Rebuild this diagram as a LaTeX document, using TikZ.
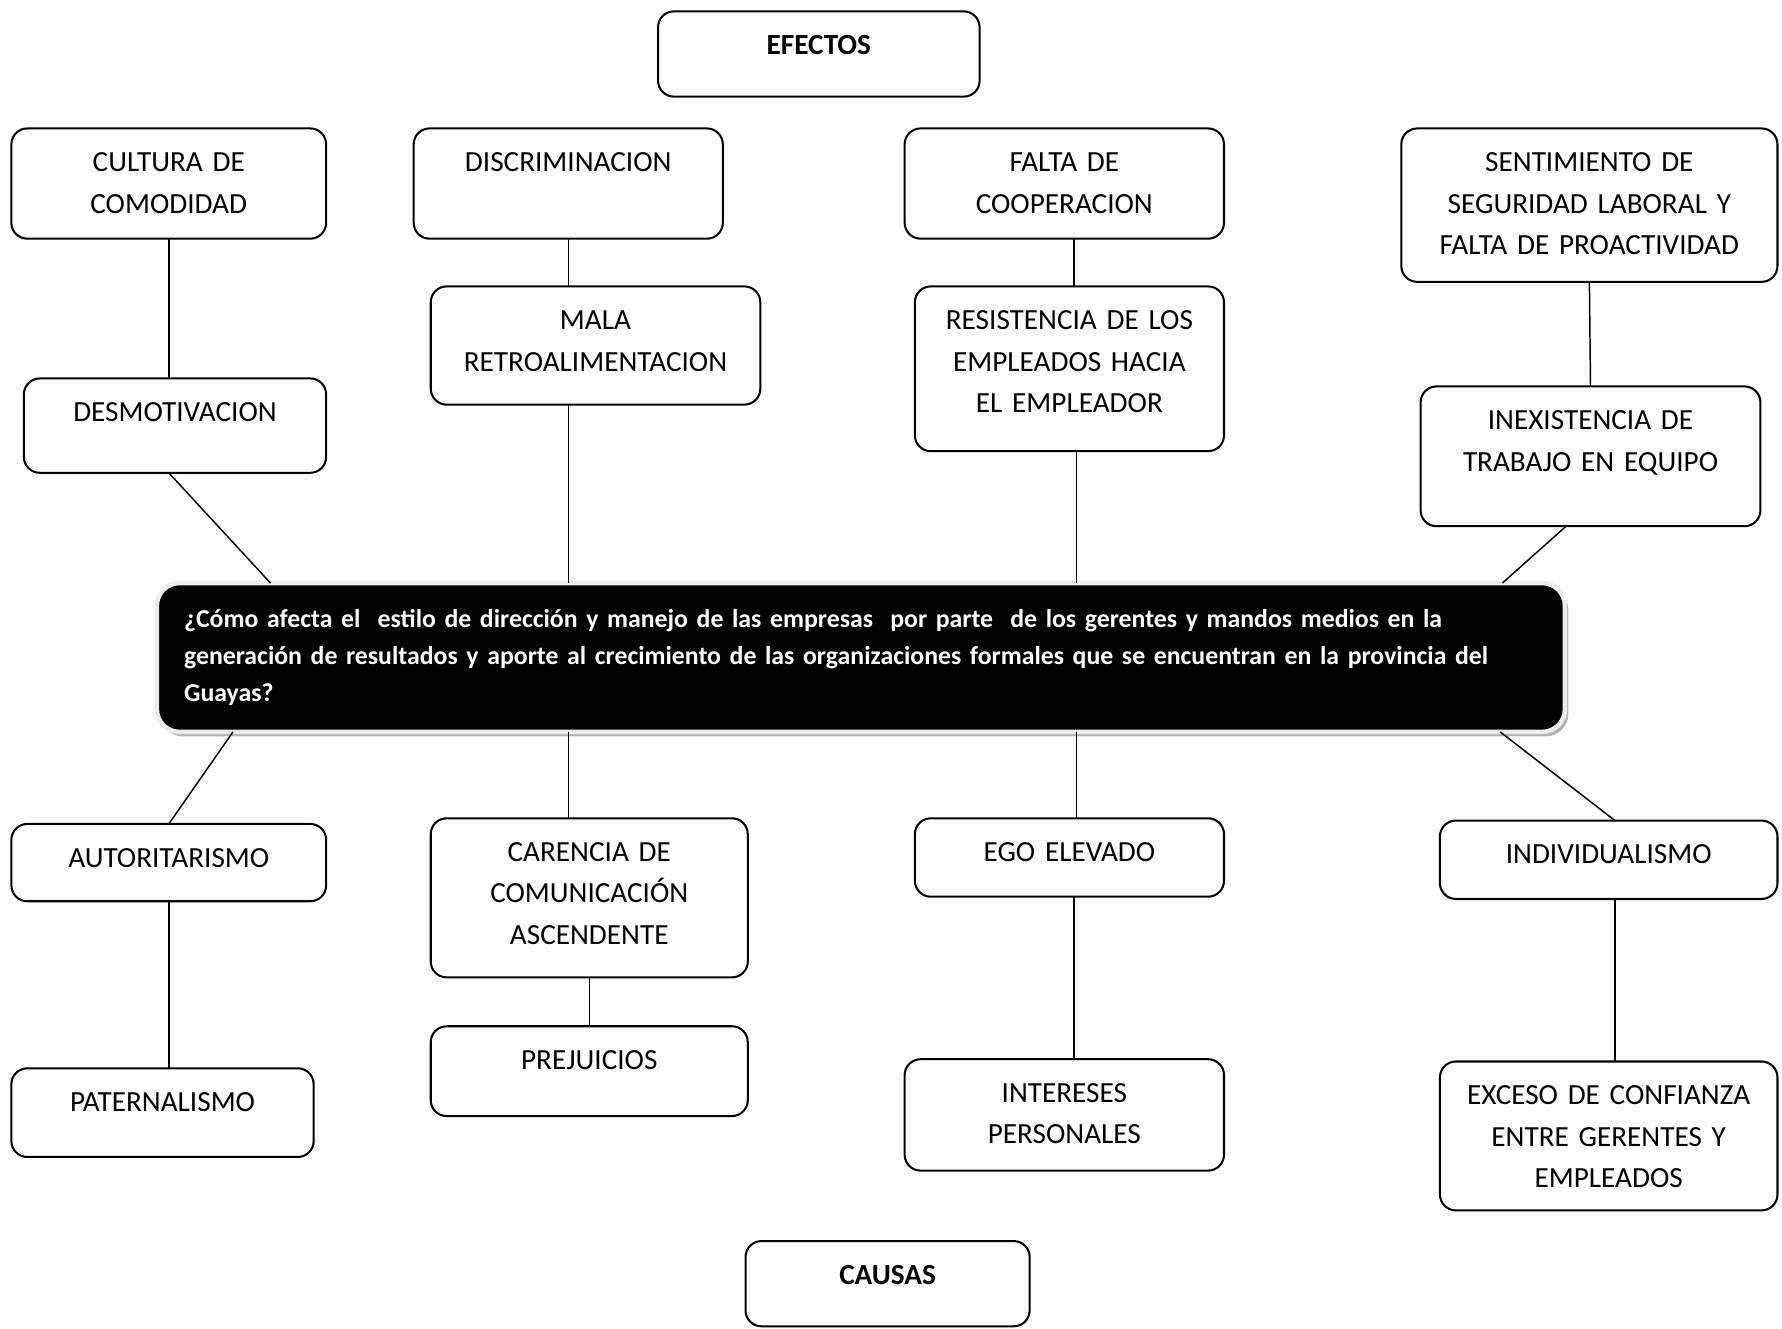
\documentclass[tikz,border=0pt]{standalone}
\usepackage{fontspec}
\setmainfont{Carlito}
\usetikzlibrary{calc,shadows}
\newcommand{\letrero}{\fontsize{12.85}{18.25}\selectfont}
\newcommand{\letpregunta}{\fontsize{11.35}{16.25}\selectfont\bfseries}

\begin{document}
\begin{tikzpicture}[x=0.5pt,y=-0.5pt,
  caja/.style={draw,line width=0.9pt,rounded corners=7pt,anchor=north,inner sep=0pt,outer sep=0pt,
    align=center,text height=19pt,font=\letrero},
  titulo/.style={caja,font=\letrero\bfseries},
  enlace/.style={line width=0.65pt}]
\useasboundingbox (0,0) rectangle (1568,1169);

\node[titulo, text width=141.5pt, text depth=18.5pt] (efectos) at (720.5,10) {EFECTOS};

\node[caja, text width=138.5pt, text depth=29.5pt] (cultura) at (148.5,113) {CULTURA DE\\COMODIDAD};
\node[caja, text width=136pt, text depth=29.5pt] (discrim) at (500,113) {DISCRIMINACION};
\node[caja, text width=140.5pt, text depth=29.5pt] (falta) at (936.5,113) {FALTA DE\\COOPERACION};
\node[caja, text width=165.5pt, text depth=48.5pt] (sentim) at (1398.5,113) {SENTIMIENTO DE\\SEGURIDAD LABORAL Y\\FALTA DE PROACTIVIDAD};
\node[caja, text width=133pt, text depth=22.5pt] (desmot) at (154,333) {DESMOTIVACION};
\node[caja, text width=145pt, text depth=33pt] (mala) at (524,252) {MALA\\RETROALIMENTACION};
\node[caja, text width=136pt, text depth=53.5pt] (resist) at (941,252) {RESISTENCIA DE LOS\\EMPLEADOS HACIA\\EL EMPLEADOR};
\node[caja, text width=149.5pt, text depth=42.5pt] (inexist) at (1399.5,340) {INEXISTENCIA DE\\TRABAJO EN EQUIPO};

\node[anchor=north west, fill=black, draw=gray!15, line width=2pt, rounded corners=10pt,
  drop shadow={shadow xshift=1.5pt, shadow yshift=-2pt, fill=gray!60, opacity=1},
  inner xsep=12pt, inner ysep=0pt, outer sep=0pt, text width=595.5pt, align=left,
  text height=19.5pt, text depth=46pt, text=white, font=\letpregunta] (pregunta) at (138,513)
  {¿Cómo afecta el\ \ estilo de dirección y manejo de las empresas\ \ por parte\ \ de los gerentes y mandos medios en la\\
   generación de resultados y aporte al crecimiento de las organizaciones formales que se encuentran en la provincia del\\
   Guayas?};

\node[caja, text width=138.5pt, text depth=15pt] (autor) at (148.5,725) {AUTORITARISMO};
\node[caja, text width=133pt, text depth=20pt] (patern) at (143,940) {PATERNALISMO};
\node[caja, text width=139.5pt, text depth=51pt] (carencia) at (518.5,720) {CARENCIA DE\\COMUNICACIÓN\\ASCENDENTE};
\node[caja, text width=139.5pt, text depth=20.5pt] (prejui) at (518.5,903) {PREJUICIOS};
\node[caja, text width=136pt, text depth=15.5pt] (ego) at (941,720) {EGO ELEVADO};
\node[caja, text width=140.5pt, text depth=30pt] (intereses) at (936.5,932) {INTERESES\\PERSONALES};
\node[caja, text width=148.5pt, text depth=15.5pt] (indiv) at (1415.5,722) {INDIVIDUALISMO};
\node[caja, text width=148.5pt, text depth=46.5pt] (exceso) at (1415.5,934) {EXCESO DE CONFIANZA\\ENTRE GERENTES Y\\EMPLEADOS};

\node[titulo, text width=125pt, text depth=18.5pt] (causas) at (781,1092) {CAUSAS};

\coordinate (f1) at ($(falta.south)+(8.5,0)$);
\coordinate (r1) at ($(resist.south)+(6,0)$);
\coordinate (i1) at ($(indiv.south)+(5.5,0)$);

% efectos
\draw[enlace] (cultura.south) -- (cultura.south |- desmot.north);
\draw[enlace] (desmot.south -| cultura.south) -- ($(pregunta.north west)+(100,0)$);
\draw[enlace] (discrim.south) -- (discrim.south |- mala.north);
\draw[enlace] (discrim.south |- mala.south) -- (discrim.south |- pregunta.north);
\draw[enlace] (f1) -- (f1 |- resist.north);
\draw[enlace] (r1) -- (r1 |- pregunta.north);
\draw[enlace] (sentim.south) -- (inexist.north);
\draw[enlace] ($(inexist.south)+(-21.5,0)$) -- ($(pregunta.north east)+(-55,0)$);

% causas
\draw[enlace] ($(pregunta.south west)+(67,0)$) -- (autor.north);
\draw[enlace] (autor.south) -- (autor.south |- patern.north);
\draw[enlace] (discrim.south |- pregunta.south) -- (discrim.south |- carencia.north);
\draw[enlace] (carencia.south) -- (prejui.north);
\draw[enlace] (r1 |- pregunta.south) -- (r1 |- ego.north);
\draw[enlace] (f1 |- ego.south) -- (f1 |- intereses.north);
\draw[enlace] ($(pregunta.south east)+(-57,0)$) -- (i1 |- indiv.north);
\draw[enlace] (i1) -- (i1 |- exceso.north);
\end{tikzpicture}
\end{document}
